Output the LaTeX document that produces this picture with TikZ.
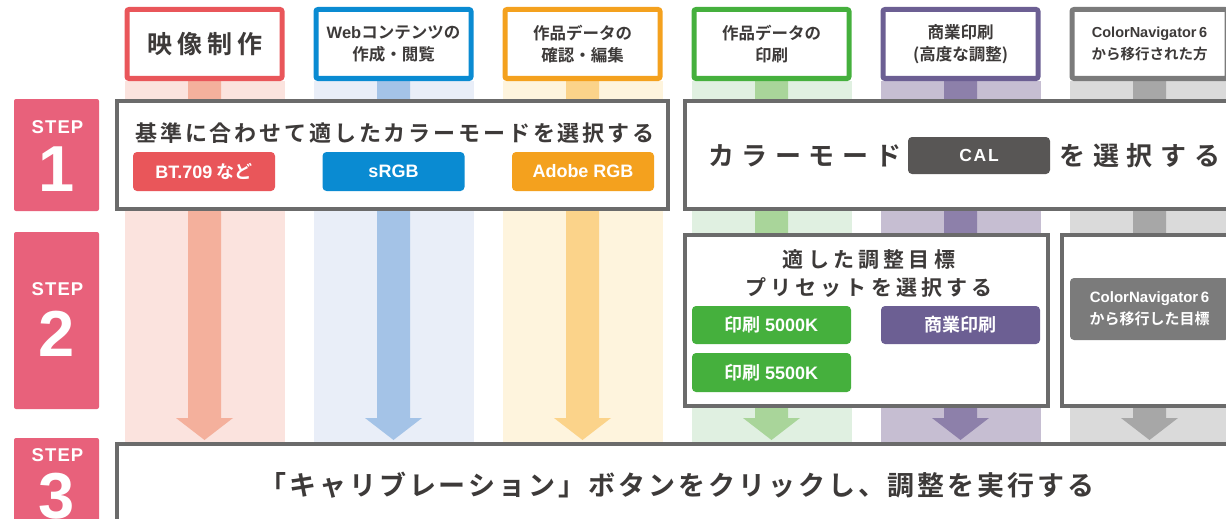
\documentclass[tikz,border=0pt]{standalone}
\usepackage{fontspec}
\usetikzlibrary{calc,backgrounds}
\setmainfont{Noto Sans CJK JP}
\newfontfamily\jpB{Noto Sans CJK JP Bold}
\newfontfamily\jpBa{Noto Sans CJK JP Bold}[LetterSpace=13]
\newfontfamily\jpBb{Noto Sans CJK JP Bold}[LetterSpace=11]
\newfontfamily\jpBc{Noto Sans CJK JP Bold}[LetterSpace=29]
\newfontfamily\jpBd{Noto Sans CJK JP Bold}[LetterSpace=20]
\newfontfamily\jpBe{Noto Sans CJK JP Bold}[LetterSpace=20]
\newfontfamily\lat{Liberation Sans Bold}
\newfontfamily\latS{Liberation Sans Bold}[LetterSpace=6]
\newfontfamily\latC{Liberation Sans Bold}[LetterSpace=10]
\definecolor{cText}{HTML}{3D3A39}
\definecolor{cBox}{HTML}{6B6B6B}
\definecolor{cStep}{HTML}{E8617B}
\definecolor{cCal}{HTML}{585655}
\definecolor{cRed}{HTML}{E9565A}
\definecolor{cBlue}{HTML}{0A8BD2}
\definecolor{cOrange}{HTML}{F4A11E}
\definecolor{cGreen}{HTML}{45B03D}
\definecolor{cPurple}{HTML}{6C5F93}
\definecolor{cGray}{HTML}{7B7B7B}
\definecolor{lRed}{HTML}{FBE3DE}
\definecolor{dRed}{HTML}{F4B09C}
\definecolor{lBlue}{HTML}{E9EEF8}
\definecolor{dBlue}{HTML}{A4C3E7}
\definecolor{lOrange}{HTML}{FEF4DD}
\definecolor{dOrange}{HTML}{FBD38A}
\definecolor{lGreen}{HTML}{E0F0E1}
\definecolor{dGreen}{HTML}{A9D59A}
\definecolor{lPurple}{HTML}{C6BED2}
\definecolor{dPurple}{HTML}{8D80AA}
\definecolor{lGray}{HTML}{DADADA}
\definecolor{dGray}{HTML}{A7A7A7}
\begin{document}
\begin{tikzpicture}[x=1pt,y=-1pt,
  txt/.style={text=cText, inner sep=0pt},
  hbox/.style={draw, line width=5pt, fill=white, rounded corners=2pt, minimum width=155pt, minimum height=69pt, inner sep=0pt, align=center, text=cText, font=\jpB\fontsize{16.5}{22}\selectfont},
  sbox/.style={draw=cBox, line width=4pt, fill=white, inner sep=0pt},
  btn/.style={rounded corners=4pt, text=white, inner sep=0pt, font=\jpB\fontsize{18}{20}\selectfont},
  badge/.style={fill=cStep, rounded corners=2pt, minimum width=85pt, inner sep=0pt},
  steplbl/.style={text=white, inner sep=0pt, font=\latS\fontsize{18.5}{20}\selectfont},
  stepnum/.style={text=white, inner sep=0pt, font=\lat\fontsize{65}{65}\selectfont},
]
\useasboundingbox (0,0) rectangle (1226,519);
\clip (0,0) rectangle (1226,519);

% headers
\node[hbox, draw=cRed] (h1) at (204.5,44) {\jpBe\fontsize{25}{28}\selectfont 映像制作};
\node[hbox, draw=cBlue] (h2) at (393.5,44) {{\lat Web}コンテンツの\\作成・閲覧};
\node[hbox, draw=cOrange] (h3) at (582.5,44) {作品データの\\確認・編集};
\node[hbox, draw=cGreen] (h4) at (771.5,44) {作品データの\\印刷};
\node[hbox, draw=cPurple] (h5) at (960.5,44) {商業印刷\\(高度な調整)};
\node[hbox, draw=cGray, font=\jpB\fontsize{14.5}{22}\selectfont] (h6) at (1149.5,44) {{\lat ColorNavigator\,6}\\から移行された方};

% step 1
\node[sbox, minimum width=551pt, minimum height=108pt] (s1a) at (392.5,155) {};
\node[txt, font=\jpBa\fontsize{22}{26}\selectfont] (t1) at (395,133) {基準に合わせて適したカラーモードを選択する};
\node[btn, fill=cRed, minimum width=142pt, minimum height=39pt] (b1) at (204,171.5) {{\lat BT.709} など};
\node[btn, fill=cBlue, minimum width=142pt, minimum height=39pt, font=\lat\fontsize{18}{20}\selectfont] (b2) at (393.5,171.5) {sRGB};
\node[btn, fill=cOrange, minimum width=142pt, minimum height=39pt, font=\lat\fontsize{18}{20}\selectfont] (b3) at (583,171.5) {Adobe RGB};

\node[sbox, minimum width=555pt, minimum height=108pt] (s1b) at (962.5,155) {};
\node[txt, font=\jpBc\fontsize{26}{28}\selectfont] (t1b) at (805,156) {カラーモード};
\node[btn, fill=cCal, minimum width=142pt, minimum height=37pt, font=\latC\fontsize{17.5}{20}\selectfont] (cal) at (979,155.5) {CAL};
\node[txt, font=\jpBc\fontsize{26}{28}\selectfont] (t1c) at (1140,156) {を選択する};

% step 2
\node[sbox, minimum width=363pt, minimum height=171pt] (s2a) at (866.5,320.5) {};
\node[txt, font=\jpBd\fontsize{21}{28}\selectfont, align=center] (t2) at (869,274) {適した調整目標\\プリセットを選択する};
\node[btn, fill=cGreen, minimum width=159pt, minimum height=38pt] (b4) at (771.5,325) {印刷 {\lat 5000K}};
\node[btn, fill=cPurple, minimum width=159pt, minimum height=38pt] (b5) at (960.5,325) {商業印刷};
\node[btn, fill=cGreen, minimum width=159pt, minimum height=39pt] (b6) at (771.5,372.5) {印刷 {\lat 5500K}};
\node[sbox, minimum width=178pt, minimum height=171pt] (s2b) at (1151,320.5) {};
\node[btn, fill=cGray, minimum width=159pt, minimum height=62pt, align=center, font=\jpB\fontsize{15}{22}\selectfont] (b7) at (1149.5,309) {{\lat ColorNavigator\,6}\\から移行した目標};

% step 3
\node[sbox, minimum width=1123pt, minimum height=96pt] (s3) at (678.5,492) {};
\node[txt, font=\jpBb\fontsize{27}{30}\selectfont] (t3) at (677,485) {「キャリブレーション」ボタンをクリックし、調整を実行する};

% badges
\node[badge, minimum height=112pt] (st1) at (56.5,155) {};
\node[steplbl] (st1l) at (57.5,127) {STEP};
\node[stepnum] (st1n) at (56.5,169) {1};
\node[badge, minimum height=177pt] (st2) at (56.5,320.5) {};
\node[steplbl] (st2l) at (57.5,289) {STEP};
\node[stepnum] (st2n) at (56.5,334) {2};
\node[badge, minimum height=92pt] (st3) at (56.5,484) {};
\node[steplbl] (st3l) at (57.5,455) {STEP};
\node[stepnum] (st3n) at (56.5,496) {3};

% stripes and arrows
\begin{pgfonlayer}{background}
\foreach \i/\lc/\dc in {1/lRed/dRed,2/lBlue/dBlue,3/lOrange/dOrange,4/lGreen/dGreen,5/lPurple/dPurple,6/lGray/dGray}{
  \fill[\lc] ($(h\i.south)+(-80,0)$) rectangle ($(h\i.south |- s3.north)+(80,0)$);
  \fill[\dc] ($(h\i.south)+(-16.5,0)$) -- ($(h\i.south |- s3.north)+(-16.5,-24)$)
    -- ($(h\i.south |- s3.north)+(-28.5,-24)$) -- ($(h\i.south |- s3.north)+(0,-2)$)
    -- ($(h\i.south |- s3.north)+(28.5,-24)$) -- ($(h\i.south |- s3.north)+(16.5,-24)$)
    -- ($(h\i.south)+(16.5,0)$) -- cycle;
}
\end{pgfonlayer}
\end{tikzpicture}
\end{document}
